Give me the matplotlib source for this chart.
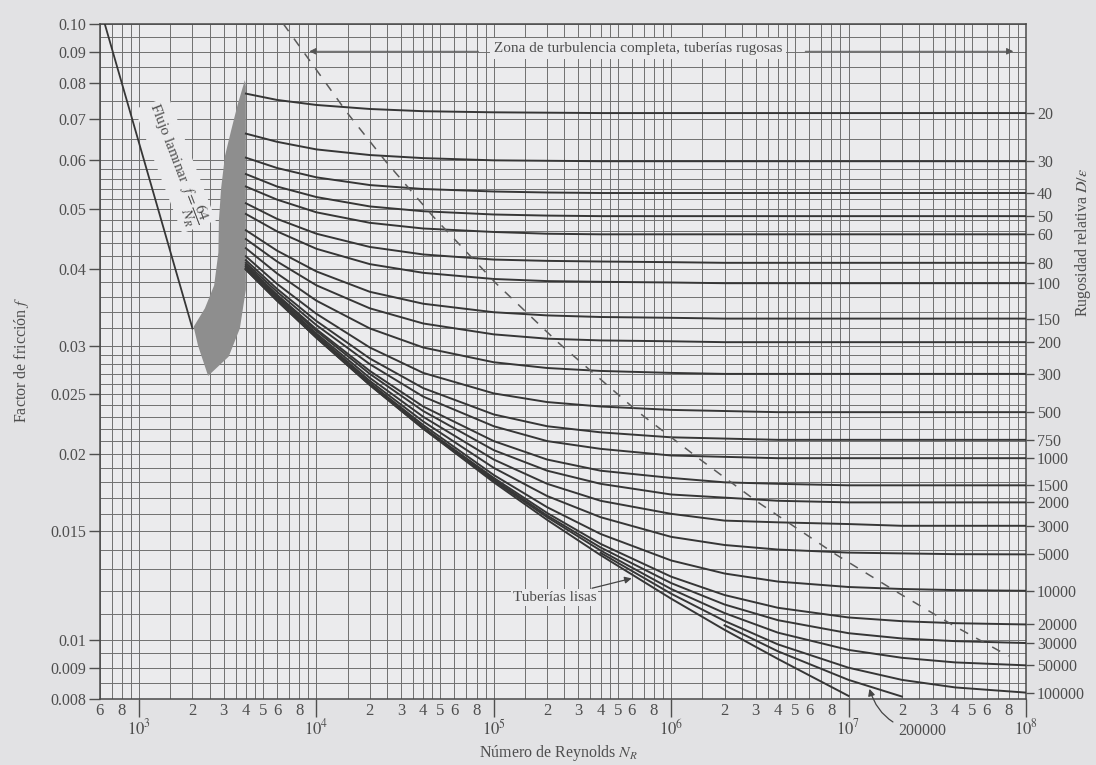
# Diagrama de Moody: factor de friccion vs numero de Reynolds
import numpy as np
import matplotlib.pyplot as plt

plt.rcParams['font.family'] = ['Liberation Serif', 'DejaVu Serif']
plt.rcParams['mathtext.fontset'] = 'stix'

nan = np.nan

# Numero de Reynolds donde se leyeron las curvas
re_pts = [4e3, 6e3, 1e4, 2e4, 4e4, 1e5, 2e5, 4e5, 1e6, 2e6, 4e6, 1e7, 2e7, 4e7, 1e8]

# factor de friccion leido para cada rugosidad relativa D/e
f_20 = [.0770, .0752, .0738, .0727, .0721, .0718, .0717, .0716, .0716, .0716, .0716, .0716, .0716, .0716, .0716]
f_30 = [.0663, .0643, .0625, .0612, .0605, .0600, .0599, .0598, .0598, .0598, .0598, .0598, .0598, .0598, .0598]
f_40 = [.0606, .0583, .0563, .0547, .0539, .0534, .0532, .0531, .0531, .0531, .0531, .0531, .0531, .0531, .0531]
f_50 = [.0570, .0544, .0523, .0505, .0496, .0490, .0488, .0487, .0487, .0487, .0487, .0487, .0487, .0487, .0487]
f_60 = [.0544, .0518, .0494, .0475, .0465, .0459, .0456, .0455, .0455, .0455, .0455, .0455, .0455, .0455, .0455]
f_80 = [.0511, .0482, .0456, .0434, .0422, .0414, .0412, .0411, .0410, .0409, .0409, .0409, .0409, .0409, .0409]
f_100 = [.0491, .0460, .0431, .0407, .0394, .0385, .0382, .0381, .0380, .0379, .0379, .0379, .0379, .0379, .0379]
f_150 = [.0462, .0428, .0396, .0367, .0351, .0340, .0336, .0334, .0333, .0332, .0332, .0332, .0332, .0332, .0332]
f_200 = [.0447, .0411, .0376, .0345, .0326, .0313, .0308, .0306, .0305, .0304, .0304, .0304, .0304, .0304, .0304]
f_300 = [.0432, .0393, .0355, .0320, .0298, .0282, .0276, .0273, .0271, .0270, .0270, .0270, .0270, .0270, .0270]
f_500 = [.0419, .0378, .0338, .0298, .0271, .0251, .0243, .0239, .0236, .0235, .0234, .0234, .0234, .0234, .0234]
f_750 = [.0413, .0371, .0329, .0286, .0256, .0232, .0222, .0217, .0213, .0212, .0211, .0211, .0211, .0211, .0211]
f_1000 = [.0409, .0367, .0324, .0280, .0248, .0222, .0210, .0204, .0199, .0198, .0197, .0197, .0197, .0197, .0197]
f_1500 = [.0406, .0363, .0319, .0273, .0239, .0210, .0196, .0188, .0183, .0180, .0179, .0178, .0178, .0178, .0178]
f_2000 = [.0404, .0361, .0317, .0270, .0235, .0203, .0188, .0179, .0172, .0170, .0168, .0167, .0167, .0167, .0167]
f_3000 = [.0403, .0359, .0314, .0266, .0230, .0196, .0179, .0168, .0160, .0156, .0155, .0154, .0153, .0153, .0153]
f_5000 = [.0401, .0358, .0312, .0263, .0226, .0190, .0171, .0158, .01468, .01424, .0140, .01384, .0138, .01376, .01375]
f_10000 = [.0400, .0357, .0311, .0261, .0223, .0185, .0164, .01484, .01344, .0128, .01242, .01217, .01208, .01203, .0120]
f_20000 = [.0400, .0356, .0310, .0260, .0221, .0183, .01605, .0143, .01265, .01181, .01126, .01086, .01071, .01063, .01058]
f_30000 = [.0399, .0356, .0310, .0260, .0221, .0182, .0159, .01411, .01235, .0114, .01075, .01024, .01004, .00994, .00987]
f_50000 = [.0399, .0355, .0309, .0259, .0220, .0181, .0158, .01395, .01208, .01104, .01026, .00962, .00934, .00918, .00908]
f_100000 = [nan, nan, nan, nan, nan, nan, nan, .01383, .01187, .01072, .00982, .0090, .0086, .00836, .0082]
f_200000 = [nan, nan, nan, nan, nan, nan, nan, nan, nan, .01055, .00957, .0086, .00808, nan, nan]
f_lisa = [.0399, .0355, .0309, .0259, .0220, .0180, .01564, .01371, .01165, .01037, .0093, .0081, nan, nan, nan]

# flujo laminar
re_laminar = [640, 2000]
f_laminar = [0.100, 0.032]

# linea de trazos: inicio de turbulencia completa
re_trazos = [6500, 14950, 24540, 45310, 102700, 229400, 653700, 1.425e6, 3.095e6, 8.53e6, 1.826e7, 3.9e7, 8.0e7]
f_trazos = [0.100, 0.0716, 0.0598, 0.0487, 0.0379, 0.0304, 0.0234, 0.0197, 0.0167, 0.01373, 0.0120, 0.01054, 0.0094]

# zona critica sombreada
re_zona = [3950, 3600, 3300, 3050, 2900, 2820, 2800, 2650, 2350, 2030, 2150, 2450, 3200, 3700, 4000, 4000, 4000]
f_zona = [0.081, 0.074, 0.067, 0.061, 0.054, 0.048, 0.0425, 0.0376, 0.0345, 0.0322, 0.0300, 0.0268, 0.0288, 0.0320, 0.037, 0.054, 0.079]

rugosidad = [20, 30, 40, 50, 60, 80, 100, 150, 200, 300, 500, 750, 1000, 1500,
             2000, 3000, 5000, 10000, 20000, 30000, 50000, 100000]
curvas = [f_20, f_30, f_40, f_50, f_60, f_80, f_100, f_150, f_200, f_300, f_500,
          f_750, f_1000, f_1500, f_2000, f_3000, f_5000, f_10000, f_20000,
          f_30000, f_50000, f_100000]

y_ticks = [0.10, 0.09, 0.08, 0.07, 0.06, 0.05, 0.04, 0.03, 0.025, 0.02, 0.015, 0.01, 0.009, 0.008]
y_labels = ['0.10', '0.09', '0.08', '0.07', '0.06', '0.05', '0.04', '0.03', '0.025',
            '0.02', '0.015', '0.01', '0.009', '0.008']

fondo = '#ebebed'
tinta = '#363636'
texto = '#4e4e4e'

fig = plt.figure(figsize=(10.96, 7.65), dpi=100, facecolor='#e2e2e4')
ax = fig.add_axes([0.091, 0.086, 0.845, 0.883])
ax.set_facecolor(fondo)
ax.set_xscale('log')
ax.set_yscale('log')
ax.set_xlim(600, 1e8)
ax.set_ylim(0.008, 0.1)

# cuadricula
pasos = [1, 1.5, 2, 2.5, 3, 3.5, 4, 4.5, 5, 6, 7, 8, 9]
for d in range(2, 8):
    for p in pasos:
        x = p * 10 ** d
        if 600 <= x <= 1e8:
            ax.axvline(x, color='#707070', lw=0.7, zorder=1)
gy = list(np.arange(0.0085, 0.01, 0.0005)) + list(np.arange(0.010, 0.030, 0.001)) + \
     list(np.arange(0.030, 0.060, 0.002)) + list(np.arange(0.060, 0.1, 0.005))
for y in gy:
    ax.axhline(y, color='#707070', lw=0.7, zorder=1)

# zona critica y laminar
ax.fill(re_zona, f_zona, color='#8e8e8e', lw=0, zorder=2)
ax.plot(re_laminar, f_laminar, color=tinta, lw=1.3, zorder=3)

# curvas de rugosidad
for f in curvas:
    ax.plot(re_pts, f, color=tinta, lw=1.4, zorder=3)
ax.plot(re_pts, f_200000, color=tinta, lw=1.4, zorder=3)
ax.plot(re_pts, f_lisa, color=tinta, lw=1.4, zorder=3)

ax.plot(re_trazos, f_trazos, color='#5a5a5a', lw=1.1, ls=(0, (6, 6)), zorder=3)

# ejes
ax.set_yticks(y_ticks, labels=y_labels)
ax.set_yticks([], minor=True)
major_x = [1e3, 1e4, 1e5, 1e6, 1e7, 1e8]
ax.set_xticks(major_x, labels=[r'$10^{%d}$' % k for k in range(3, 9)])
minor_x = [600, 800]
minor_lab = ['6', '8']
for d in range(3, 8):
    for p in [2, 3, 4, 5, 6, 8]:
        minor_x.append(p * 10 ** d)
        minor_lab.append(str(p))
ax.set_xticks(minor_x, labels=minor_lab, minor=True)
ax.tick_params(axis='x', which='major', length=13, width=1, pad=1, labelsize=12,
               colors=texto, direction='out')
ax.tick_params(axis='x', which='minor', length=0, pad=3, labelsize=12, colors=texto)
ax.tick_params(axis='y', length=8, width=1, labelsize=11.5, colors=texto, pad=2)
for s in ax.spines.values():
    s.set_color('#4a4a4a')
    s.set_linewidth(1.1)

ax2 = ax.twinx()
ax2.set_yscale('log')
ax2.set_ylim(ax.get_ylim())
ax2.set_yticks([f[-1] for f in curvas], labels=[str(r) for r in rugosidad])
ax2.set_yticks([], minor=True)
ax2.tick_params(axis='y', length=6, width=1, labelsize=11.5, colors=texto, pad=2)
for s in ax2.spines.values():
    s.set_visible(False)

# textos
ax.text(6.5e5, 0.0912, 'Zona de turbulencia completa, tuberías rugosas', ha='center',
        va='center', fontsize=11, color=texto, zorder=5,
        bbox=dict(fc=fondo, ec='none', pad=3))
ax.annotate('', xy=(8.8e3, 0.0902), xytext=(8.5e4, 0.0902),
            arrowprops=dict(arrowstyle='-|>', color='#555555', lw=0.7, mutation_scale=10), zorder=4)
ax.annotate('', xy=(8.8e7, 0.0902), xytext=(5.5e6, 0.0902),
            arrowprops=dict(arrowstyle='-|>', color='#555555', lw=0.7, mutation_scale=10), zorder=4)

ax.text(1600, 0.059, r'Flujo laminar  $f=\dfrac{64}{N_R}$', rotation=-69, ha='center',
        va='center', fontsize=11, color=texto, zorder=5,
        bbox=dict(fc=fondo, ec='none', pad=1.5))

ax.annotate('Tuberías lisas', xy=(6.2e5, 0.0126), xytext=(2.2e5, 0.0117), ha='center',
            va='center', fontsize=11, color=texto, zorder=5,
            bbox=dict(fc=fondo, ec='none', pad=1.5),
            arrowprops=dict(arrowstyle='-|>', color='#444444', lw=0.9, mutation_scale=10))

ax.annotate('200000', xy=(1.3e7, 0.0084), xytext=(2.6e7, 0.0071), ha='center',
            va='center', fontsize=11.5, color=texto, annotation_clip=False,
            arrowprops=dict(arrowstyle='-|>', color='#444444', lw=0.9, mutation_scale=10,
                            shrinkA=2, connectionstyle='arc3,rad=-0.35'))

fig.text(0.02, 0.53, r'Factor de fricción $f$', rotation=90, ha='center', va='center',
         fontsize=11.5, color=texto)
fig.text(0.988, 0.683, r'Rugosidad relativa $D/\epsilon$', rotation=90, ha='center',
         va='center', fontsize=11.5, color=texto)
fig.text(0.51, 0.002, r'Número de Reynolds $N_R$', ha='center', va='bottom',
         fontsize=11.5, color=texto)

plt.savefig('out.png', dpi=100, facecolor=fig.get_facecolor())
